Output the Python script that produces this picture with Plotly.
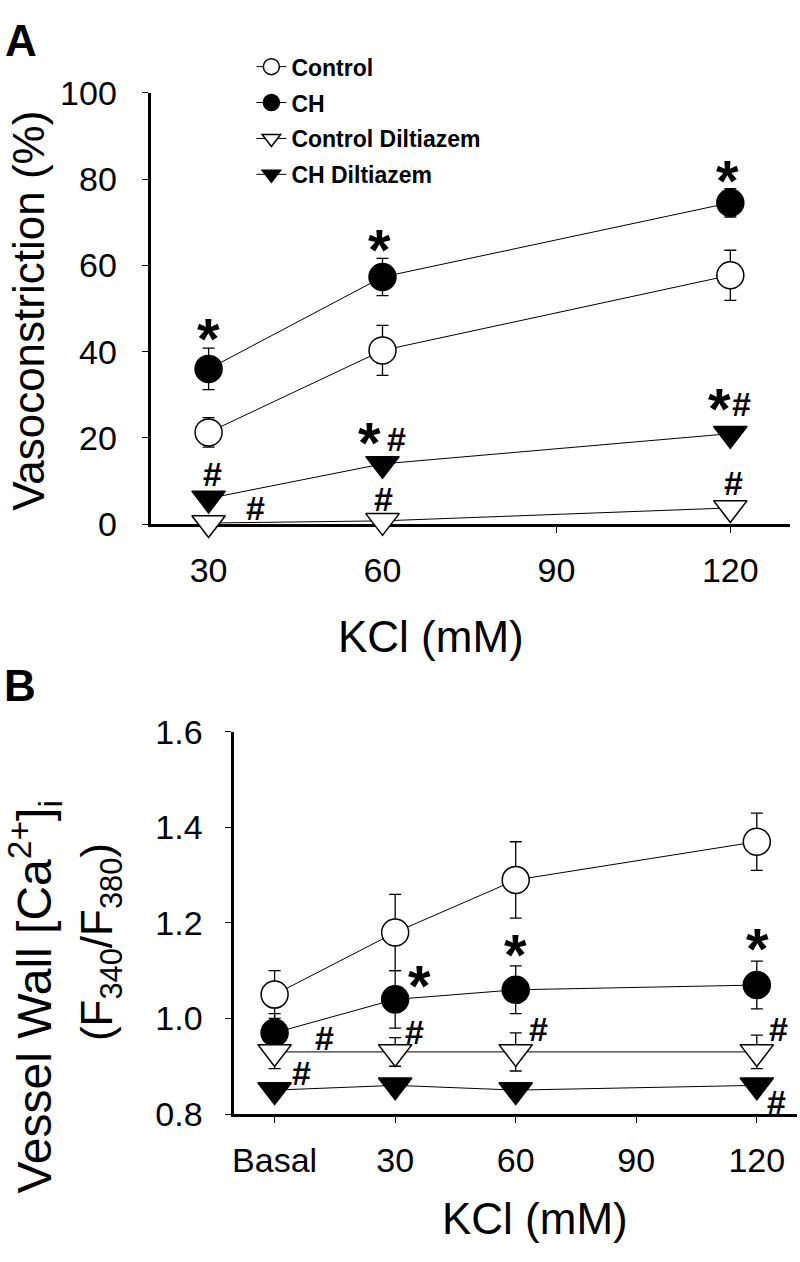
import plotly.graph_objects as go

# ---------------- data ----------------
kcl_a = [30, 60, 120]
control_a = [21.3, 40.3, 57.7]
control_a_err = [3.4, 5.8, 5.8]
ch_a = [36.0, 57.3, 74.5]
ch_a_err = [4.8, 4.3, 3.3]
control_dil_a = [0.3, 0.8, 3.8]
control_dil_a_err = [0.5, 0.5, 1.0]
ch_dil_a = [6.0, 14.0, 21.0]
ch_dil_a_err = [1.0, 1.5, 1.5]

kcl_b = [0, 30, 60, 120]
control_b = [1.05, 1.18, 1.29, 1.37]
control_b_err = [0.05, 0.08, 0.08, 0.06]
ch_b = [0.97, 1.04, 1.06, 1.07]
ch_b_err = [0.04, 0.06, 0.05, 0.05]
control_dil_b = [0.93, 0.93, 0.93, 0.93]
control_dil_b_err = [0.035, 0.03, 0.04, 0.035]
ch_dil_b = [0.85, 0.86, 0.85, 0.86]
ch_dil_b_err = [0.01, 0.01, 0.01, 0.01]

ticks_a_x = [30, 60, 90, 120]
ticks_b_x = [0, 30, 60, 90, 120]
ticks_b_text = ["Basal", "30", "60", "90", "120"]
ticks_a_y = [0, 20, 40, 60, 80, 100]
ticks_b_y = [0.8, 1.0, 1.2, 1.4, 1.6]

series_names = ["Control", "CH", "Control Diltiazem", "CH Diltiazem"]

# significance marks (x, y)
star_a_x = [30, 59.5, 119.5, 57.8, 118.1]
star_a_y = [44.4, 65, 81, 20.2, 28]
hash_a_x = [62.5, 122, 30.6, 38.1, 60.1, 120.5]
hash_a_y = [19.7, 27.8, 11.7, 3.8, 5.8, 9.6]
star_b_x = [36.0, 59.9, 120.2]
star_b_y = [1.081, 1.145, 1.159]
hash_b_x = [12.5, 6.8, 34.8, 65.7, 125.5, 124.8]
hash_b_y = [0.960, 0.886, 0.972, 0.977, 0.977, 0.825]

# ---------------- styling ----------------
W, H = 800, 1262
FONT = "Liberation Sans, Arial, sans-serif"
styles = [
    dict(symbol="circle", size=27, fill="white"),
    dict(symbol="circle", size=27, fill="black"),
    dict(symbol="triangle-down", size=29, fill="white"),
    dict(symbol="triangle-down", size=29, fill="black"),
]

fig = go.Figure()

def add_series(x, ys, errs, xa, ya, legend):
    for name, y, e, st in zip(series_names, ys, errs, styles):
        fig.add_trace(go.Scatter(
            x=x, y=y, name=name, xaxis=xa, yaxis=ya,
            mode="lines+markers", cliponaxis=False,
            showlegend=legend, legendgroup=name,
            line=dict(color="black", width=1),
            marker=dict(symbol=st["symbol"], size=st["size"], color=st["fill"],
                        line=dict(color="black", width=1.5)),
            error_y=dict(type="data", array=e, color="black", thickness=1.3, width=6),
        ))

add_series(kcl_a, [control_a, ch_a, control_dil_a, ch_dil_a],
           [control_a_err, ch_a_err, control_dil_a_err, ch_dil_a_err], "x", "y", True)
add_series(kcl_b, [control_b, ch_b, control_dil_b, ch_dil_b],
           [control_b_err, ch_b_err, control_dil_b_err, ch_dil_b_err], "x2", "y2", False)

def px_x(p):
    return p / W

def px_y(p):
    return 1 - p / H

axis_common = dict(showline=True, linewidth=3, linecolor="black", ticks="outside",
                   ticklen=6, tickwidth=1, tickcolor="black", showgrid=False,
                   zeroline=False, tickfont=dict(family=FONT, size=34, color="black"),
                   layer="below traces")

fig.update_layout(
    width=W, height=H, autosize=False,
    margin=dict(l=0, r=0, t=0, b=0),
    paper_bgcolor="white", plot_bgcolor="white",
    xaxis=dict(domain=[px_x(149), px_x(790)], range=[20, 130.3], anchor="y",
               tickvals=ticks_a_x, ticklabelstandoff=8, **axis_common),
    yaxis=dict(domain=[px_y(521), px_y(76)], range=[0, 100], anchor="x",
               tickvals=ticks_a_y, ticklabelstandoff=18, **axis_common),
    xaxis2=dict(domain=[px_x(233), px_x(797)], range=[-10, 130], anchor="y2",
                tickvals=ticks_b_x, ticktext=ticks_b_text, ticklabelstandoff=8, **axis_common),
    yaxis2=dict(domain=[px_y(1129), px_y(735)], range=[0.8, 1.6], anchor="x2",
                tickvals=ticks_b_y, tickformat=".1f", ticklabelstandoff=16, **axis_common),
    legend=dict(x=px_x(250), y=px_y(27), xanchor="left", yanchor="top",
                bgcolor="rgba(0,0,0,0)", borderwidth=0, tracegroupgap=3,
                font=dict(family=FONT, size=23, color="black", weight="bold")),
    showlegend=True,
)

ann = []
def txt(text, x, y, size, bold=False, angle=0, xref="paper", yref="paper", yshift=0,
        height=None, valign="middle"):
    d = dict(text=text, x=x, y=y, xref=xref, yref=yref, showarrow=False,
             xanchor="center", yanchor="middle", textangle=angle, yshift=yshift,
             valign=valign,
             font=dict(family=FONT, size=size, color="black",
                       weight="bold" if bold else "normal"))
    if height is not None:
        d["height"] = height
    ann.append(d)

txt("A", px_x(19), px_y(22), 44, bold=True)
txt("B", px_x(18), px_y(687), 44, bold=True)
txt("KCl (mM)", px_x(430), px_y(637), 44)
txt("KCl (mM)", px_x(534), px_y(1237), 44)
txt("Vasoconstriction (%)", px_x(27), px_y(301), 44, angle=-90)
txt("Vessel Wall [Ca<sup>2+</sup>]<sub>i</sub>", px_x(33), px_y(1008), 48, angle=-90)
txt("(F<sub>340</sub>/F<sub>380</sub>)", px_x(99), px_y(952), 44, angle=-90)

# the asterisk glyph sits in the upper part of its line box; a compact box
# aligned to the top keeps the glyph centred on the mark position
STAR_KW = dict(height=36, valign="top")
for x, y in zip(star_a_x, star_a_y):
    txt("*", x, y, 58, bold=True, xref="x", yref="y", yshift=9, **STAR_KW)
for x, y in zip(hash_a_x, hash_a_y):
    txt("#", x, y, 34, bold=True, xref="x", yref="y")
for x, y in zip(star_b_x, star_b_y):
    txt("*", x, y, 58, bold=True, xref="x2", yref="y2", yshift=9, **STAR_KW)
for x, y in zip(hash_b_x, hash_b_y):
    txt("#", x, y, 34, bold=True, xref="x2", yref="y2")

fig.update_layout(annotations=ann)
fig.write_html("out.html", config={"displayModeBar": False},
               post_script="document.body.style.margin='0px';")
